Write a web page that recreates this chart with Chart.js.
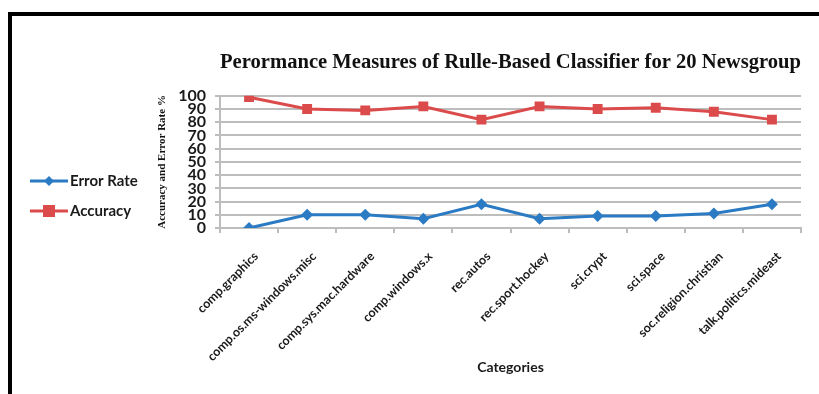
<!DOCTYPE html>
<html>
<head>
<meta charset="utf-8">
<script src="https://cdn.jsdelivr.net/npm/chart.js@4/dist/chart.umd.min.js"></script>
<style>
  html, body { margin: 0; padding: 0; background: #fff; overflow: hidden; }
  #frame {
    position: absolute; left: 8px; top: 12px; width: 830px; height: 400px;
    border-left: 4px solid #000; border-top: 4px solid #000;
  }
  #wrap { position: absolute; left: 0; top: 0; width: 819px; height: 394px; }
</style>
</head>
<body>
<div id="frame"></div>
<div id="wrap"><canvas id="chart" width="819" height="394"></canvas></div>
<script>
const categories = [
    'comp.graphics', 'comp.os.ms-windows.misc', 'comp.sys.mac.hardware', 'comp.windows.x',
    'rec.autos', 'rec.sport.hockey', 'sci.crypt', 'sci.space',
    'soc.religion.christian', 'talk.politics.mideast'
];
const errorRate = [0, 10, 10, 7, 18, 7, 9, 9, 11, 18];
const accuracy = [99, 90, 89, 92, 82, 92, 90, 91, 88, 82];
const yTicks = [0, 10, 20, 30, 40, 50, 60, 70, 80, 90, 100];

const blue = '#2b7bc4';
const red = '#dc4b4b';
const gridColor = '#bdbdbd';

// legend drawn on the left, line + marker like an office chart
const sideLegend = {
    id: 'sideLegend',
    afterDraw(chart) {
        const ctx = chart.ctx;
        const rows = [181, 211];
        chart.data.datasets.forEach((ds, i) => {
            const y = rows[i];
            ctx.save();
            ctx.strokeStyle = ds.borderColor;
            ctx.lineWidth = 3;
            ctx.beginPath();
            ctx.moveTo(30, y);
            ctx.lineTo(68, y);
            ctx.stroke();
            ctx.fillStyle = ds.backgroundColor;
            ctx.beginPath();
            if (ds.pointStyle === 'rectRot') {
                ctx.moveTo(49, y - 5);
                ctx.lineTo(54, y);
                ctx.lineTo(49, y + 5);
                ctx.lineTo(44, y);
                ctx.closePath();
            } else {
                ctx.rect(43, y - 6, 12, 12);
            }
            ctx.fill();
            ctx.fillStyle = '#1a1a1a';
            ctx.font = 'bold 15px Lato';
            ctx.textBaseline = 'middle';
            ctx.fillText(ds.label, 70, y);
            ctx.restore();
        });
    }
};

new Chart(document.getElementById('chart'), {
    type: 'line',
    data: {
        labels: categories,
        datasets: [
            {
                label: 'Error Rate',
                data: errorRate,
                borderColor: blue,
                backgroundColor: blue,
                borderWidth: 3,
                pointStyle: 'rectRot',
                pointRadius: 6,
                pointBorderWidth: 0,
                tension: 0
            },
            {
                label: 'Accuracy',
                data: accuracy,
                borderColor: red,
                backgroundColor: red,
                borderWidth: 3,
                pointStyle: 'rect',
                pointRadius: 7,
                pointBorderWidth: 0,
                tension: 0
            }
        ]
    },
    options: {
        responsive: false,
        animation: false,
        layout: { padding: { left: 150, right: 18, top: 50, bottom: 14 } },
        plugins: {
            legend: { display: false },
            tooltip: { enabled: false },
            title: {
                display: true,
                text: 'Perormance Measures of Rulle-Based Classifier for 20 Newsgroup',
                fullSize: false,
                align: 'center',
                color: '#111',
                font: { family: 'Liberation Serif', size: 20.7, weight: 'bold', lineHeight: 1.2 },
                padding: { top: 0, bottom: 21 }
            }
        },
        scales: {
            x: {
                offset: true,
                afterFit(scale) {
                    scale.height = 152;
                },
                grid: {
                    offset: true,
                    drawOnChartArea: false,
                    drawTicks: true,
                    tickLength: 5,
                    color: gridColor,
                    lineWidth: 2
                },
                border: { color: gridColor, width: 2 },
                ticks: {
                    autoSkip: false,
                    minRotation: 45,
                    maxRotation: 45,
                    padding: 16,
                    labelOffset: 7,
                    color: '#1a1a1a',
                    font: { family: 'Lato', size: 12.5, weight: 'bold' }
                },
                title: {
                    display: true,
                    text: 'Categories',
                    color: '#1a1a1a',
                    font: { family: 'Lato', size: 14, weight: 'bold' },
                    padding: { top: 0, bottom: 4 }
                }
            },
            y: {
                min: 0,
                max: 100,
                afterBuildTicks(scale) {
                    scale.ticks = yTicks.map(v => ({ value: v }));
                },
                afterFit(scale) {
                    scale.width = 70;
                },
                grid: {
                    color: gridColor,
                    lineWidth: 2,
                    tickLength: 5
                },
                border: { color: gridColor, width: 2 },
                ticks: {
                    autoSkip: false,
                    padding: 9,
                    color: '#1a1a1a',
                    font: { family: 'Lato', size: 16, weight: 'bold', lineHeight: 1 }
                },
                title: {
                    display: true,
                    text: 'Accuracy and Error Rate %',
                    color: '#111',
                    font: { family: 'Liberation Serif', size: 11, weight: 'bold' },
                    padding: { top: 6, bottom: 0 }
                }
            }
        }
    },
    plugins: [sideLegend]
});
</script>
</body>
</html>
